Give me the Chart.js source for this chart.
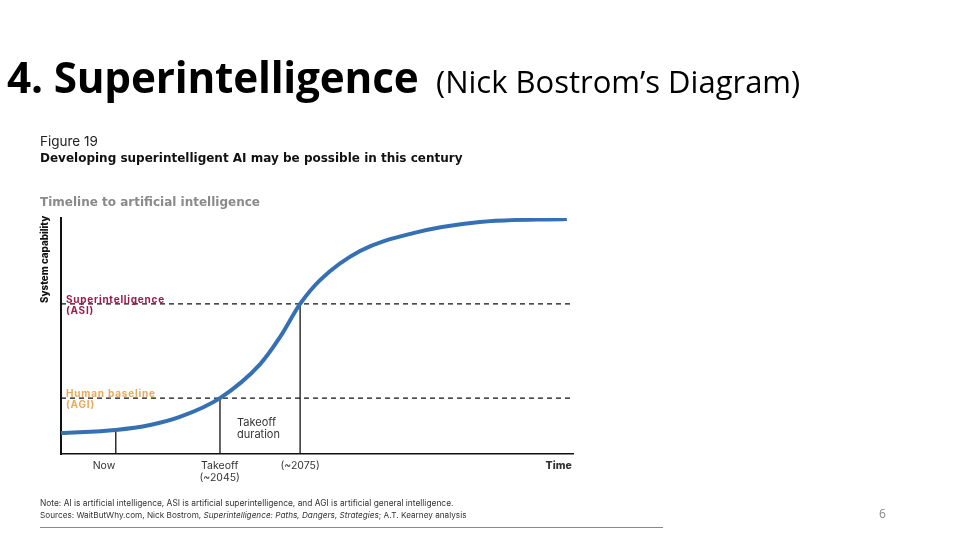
<!DOCTYPE html>
<html>
<head>
<meta charset="utf-8">
<script src="https://cdn.jsdelivr.net/npm/chart.js@4"></script>
<style>
  html, body { margin:0; padding:0; background:#fff; }
  #wrap { position:relative; width:960px; height:540px; overflow:hidden; }
  #c { position:absolute; left:0; top:0; }
  .t { position:absolute; white-space:nowrap; font-family:Inter, "Noto Sans", sans-serif; line-height:1; }
</style>
</head>
<body>
<div id="wrap">
  <canvas id="c" width="960" height="540"></canvas>
  <div class="t" style="left:7px;top:56px;font-family:'Open Sans';font-weight:700;font-size:42.3px;color:#000;letter-spacing:-0.2px;">4. Superintelligence</div>
  <div class="t" style="left:436px;top:66px;font-family:'Open Sans';font-weight:400;font-size:31px;color:#000;">(Nick Bostrom’s Diagram)</div>

  <div class="t" style="left:40px;top:135px;font-size:13.5px;color:#222;">Figure 19</div>
  <div class="t" style="left:40px;top:152px;font-family:'DejaVu Sans';font-size:12px;font-weight:700;color:#111;">Developing superintelligent AI may be possible in this century</div>
  <div class="t" style="left:40px;top:196px;font-family:'DejaVu Sans';font-size:12px;font-weight:700;color:#8a8a8a;">Timeline to artificial intelligence</div>

  <div class="t" style="left:40px;top:303px;transform-origin:0 0;transform:rotate(-90deg);font-size:9.8px;font-weight:800;color:#111;">System capability</div>

  <div class="t" style="left:66px;top:294px;font-size:10px;font-weight:700;color:#9b1b4a;line-height:11px;letter-spacing:0.75px;">Superintelligence<br>(ASI)</div>
  <div class="t" style="left:66px;top:388px;font-size:10px;font-weight:700;color:#e9aa5a;line-height:11px;letter-spacing:0.8px;">Human baseline<br>(AGI)</div>
  <div class="t" style="left:237px;top:416px;font-size:11px;font-weight:400;color:#333;line-height:12px;">Takeoff<br>duration</div>

  <div class="t" style="left:40px;top:499px;font-size:8.4px;color:#333;">Note: AI is artificial intelligence, ASI is artificial superintelligence, and AGI is artificial general intelligence.</div>
  <div class="t" style="left:40px;top:511px;font-size:8.2px;color:#333;">Sources: WaitButWhy.com, Nick Bostrom, <i>Superintelligence: Paths, Dangers, Strategies</i>; A.T. Kearney analysis</div>
  <div style="position:absolute;left:40px;top:527px;width:623px;height:1px;background:#888;"></div>
  <div class="t" style="left:879px;top:508px;font-size:12px;color:#888;font-family:'Open Sans';">6</div>
</div>
<script>
// Curve: system capability over time (abstract units, x 0-100, y 0-100)
const curveX = [0, 10.7, 17.4, 23.2, 31.05, 38.9, 42.8, 46.7, 50.6, 58.4, 68.8, 81.8, 98.8];
const curveY = [8.9, 10.2, 12.3, 15.7, 23.7, 38.1, 49.6, 63.6, 73.7, 86.0, 93.6, 98.3, 99.6];
// Thresholds
const asiLevel = 63.6;
const agiLevel = 23.7;
// Milestones (vertical marker lines) and their heights on the curve
const markerX = [10.7, 31.05, 46.7];
const markerTop = [10.2, agiLevel, asiLevel];
// X tick labels
const tickPos = [8.4, 31.0, 46.7, 97.2];
const tickLabels = ["Now", ["Takeoff", "(~2045)"], "(~2075)", "Time"];

const curve = curveX.map((x, i) => ({x, y: curveY[i]}));
const datasets = [{
  data: curve, borderColor: '#3470b3', borderWidth: 4, pointRadius: 0,
  cubicInterpolationMode: 'monotone', fill: false
}];
[asiLevel, agiLevel].forEach(v => datasets.push({
  data: [{x: 0, y: v}, {x: 100, y: v}], borderColor: '#111', borderWidth: 1.2,
  borderDash: [5, 4], pointRadius: 0
}));
markerX.forEach((x, i) => datasets.push({
  data: [{x, y: 0}, {x, y: markerTop[i]}], borderColor: '#111', borderWidth: 1.3, pointRadius: 0
}));

new Chart(document.getElementById('c'), {
  type: 'line',
  data: { datasets },
  options: {
    responsive: false, animation: false, devicePixelRatio: 1,
    layout: { padding: { left: 61, right: 387, top: 218, bottom: 0 } },
    plugins: { legend: { display: false }, tooltip: { enabled: false } },
    scales: {
      x: {
        type: 'linear', min: 0, max: 100,
        grid: { display: false, drawTicks: false },
        border: { display: true, color: '#111', width: 1.5 },
        afterFit: s => { s.height = 86; },
        afterBuildTicks: s => { s.ticks = tickPos.map(v => ({value: v})); },
        ticks: {
          padding: 6, maxRotation: 0, autoSkip: false, color: '#333',
          callback: (v, i) => tickLabels[i],
          font: ctx => ({ family: 'Inter', size: 10.5, weight: ctx.index === 3 ? '800' : '400', lineHeight: 1.15 })
        }
      },
      y: {
        min: 0, max: 100,
        grid: { display: false, drawTicks: false },
        border: { display: true, color: '#111', width: 2 },
        ticks: { display: false },
        afterFit: s => { s.width = 0; }
      }
    }
  }
});
</script>
</body>
</html>
